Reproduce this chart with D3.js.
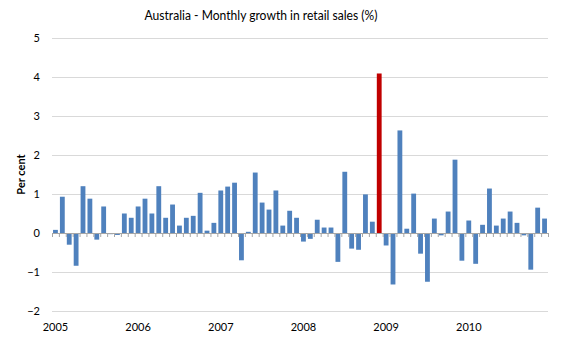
<!DOCTYPE html>
<html>
<head>
<meta charset="utf-8">
<script src="https://cdn.jsdelivr.net/npm/d3@7"></script>
<style>
  html, body { margin: 0; padding: 0; background: #fff; }
  svg { display: block; font-family: Lato, "Open Sans", sans-serif; }
</style>
</head>
<body>
<svg id="chart" width="567" height="340"></svg>
<script>
// ---- data ----
const startYear = 2005;
const growth = [
  0.08, 0.93, -0.30, -0.84, 1.20, 0.88, -0.17, 0.68, -0.03, -0.05, 0.50, 0.39,
  0.68, 0.88, 0.50, 1.20, 0.39, 0.73, 0.19, 0.39, 0.44, 1.03, 0.06, 0.26,
  1.09, 1.19, 1.29, -0.70, 0.03, 1.55, 0.78, 0.60, 1.09, 0.19, 0.57, 0.39,
  -0.22, -0.15, 0.34, 0.14, 0.14, -0.74, 1.57, -0.40, -0.43, 0.99, 0.29, 4.09,
  -0.32, -1.32, 2.63, 0.11, 1.01, -0.53, -1.25, 0.37, -0.06, 0.55, 1.88, -0.71,
  0.32, -0.79, 0.21, 1.14, 0.19, 0.37, 0.55, 0.26, -0.06, -0.94, 0.65, 0.37
];
const highlightIndex = 47; // Dec 2008
const yTicks = [-2, -1, 0, 1, 2, 3, 4, 5];
const yearLabels = ["2005", "2006", "2007", "2008", "2009", "2010"];
const title = "Australia - Monthly growth in retail sales (%)";
const yTitle = "Per cent";

// ---- layout ----
const mLeft = 52, mRight = 548, mTop = 38, mBottom = 311;
const svg = d3.select("#chart");

const x = d3.scaleBand().domain(d3.range(growth.length)).range([mLeft, mRight]).paddingInner(0.3).paddingOuter(0.15);
const xEdge = d3.scaleLinear().domain([0, growth.length]).range([mLeft, mRight]);
const y = d3.scaleLinear().domain([-2, 5]).range([mBottom, mTop]);

// gridlines + y labels
const yAxis = d3.axisLeft(y).tickValues(yTicks).tickSize(-(mRight - mLeft)).tickPadding(12).tickFormat(d3.format("d"));
const gy = svg.append("g").attr("transform", `translate(${mLeft},0)`).call(yAxis);
gy.select(".domain").remove();
gy.selectAll(".tick line").attr("stroke", "#d9d9d9").attr("stroke-width", 1);
gy.selectAll(".tick text").attr("fill", "#000").style("font-size", "11px").style("font-family", "Lato, sans-serif");

// bars
svg.append("g").selectAll("rect").data(growth).join("rect")
  .attr("x", (d, i) => x(i))
  .attr("width", x.bandwidth())
  .attr("y", d => y(Math.max(0, d)))
  .attr("height", d => Math.abs(y(d) - y(0)))
  .attr("fill", (d, i) => i === highlightIndex ? "#c00000" : "#4f81bd");

// zero axis with tick marks at month boundaries
const xAxis = d3.axisBottom(xEdge).tickValues(d3.range(growth.length + 1)).tickSize(4).tickFormat("");
const gx = svg.append("g").attr("transform", `translate(0,${y(0)})`).call(xAxis);
gx.select(".domain").attr("stroke", "#a6a6a6").attr("d", `M${mLeft},0.5H${mRight}`);
gx.selectAll(".tick line").attr("stroke", "#a6a6a6");

// year labels under January bars
svg.append("g").selectAll("text").data(yearLabels).join("text")
  .attr("x", (d, i) => x(i * 12) + x.bandwidth() / 2)
  .attr("y", 331)
  .attr("text-anchor", "middle")
  .style("font-size", "11px")
  .text(d => d);

// y title
svg.append("text")
  .attr("transform", `translate(25,${(mTop + mBottom) / 2}) rotate(-90)`)
  .attr("text-anchor", "middle")
  .style("font-size", "11px")
  .style("font-weight", "bold")
  .text(yTitle);

// title
svg.append("text")
  .attr("x", 261)
  .attr("y", 20)
  .attr("text-anchor", "middle")
  .style("font-size", "12.5px")
  .attr("textLength", 233)
  .attr("lengthAdjust", "spacingAndGlyphs")
  .text(title);
</script>
</body>
</html>
